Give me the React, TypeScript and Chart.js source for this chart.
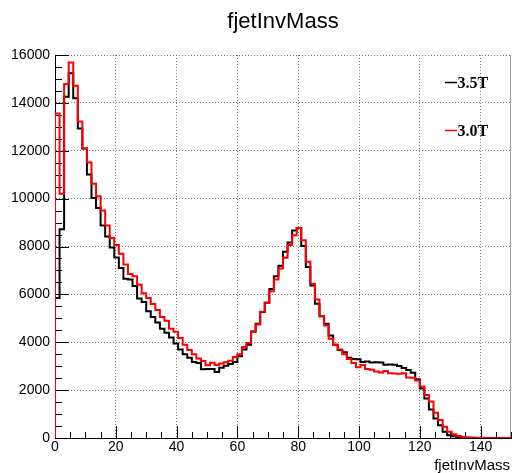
import React, { useEffect, useRef } from "react";
import { Chart, registerables } from "chart.js";

Chart.register(...registerables);

// ---- axis / binning ----
const X_MIN = 0;
const X_MAX = 150;
const BIN_WIDTH = 1.5;
const Y_MAX = 16000;
const X_TICKS = [0, 20, 40, 60, 80, 100, 120, 140];
const X_MAJOR = 20;
const X_MINOR = 5;
const Y_MAJOR = 2000;
const Y_MINOR = 500;

const TITLE = "fjetInvMass";
const X_TITLE = "fjetInvMass";
const SERIES_LABELS = ["3.5T", "3.0T"];
const SERIES_COLORS = ["#000000", "#ff0000"];

// ---- histogram contents (100 bins of width 1.5) ----
const H_35T = [
  5850, 8720, 14260, 15240, 14190, 12930, 12090, 11010, 10030, 9610,
  8880, 8420, 7960, 7540, 7100, 6650, 6620, 6350, 5830, 5680,
  5300, 5050, 4820, 4560, 4400, 4200, 3950, 3700, 3500, 3350,
  3170, 3130, 2870, 2880, 2880, 2760, 2930, 3020, 3090, 3170,
  3420, 3700, 3900, 4450, 4770, 5260, 5650, 6220, 6760, 7200,
  7780, 8170, 8670, 8770, 8020, 7140, 6370, 5610, 5090, 4770,
  4280, 3900, 3680, 3580, 3350, 3300, 3290, 3180, 3200, 3150,
  3160, 3150, 3060, 3070, 3060, 3010, 2920, 2840, 2730, 2450,
  2070, 1650, 1190, 810, 530, 260, 120, 70, 45, 25,
  15, 8, 5, 3, 2, 1, 1, 0, 0, 0,
];

const H_30T = [
  13560, 10200, 14790, 15690, 14720, 13220, 12090, 11510, 10620, 10100,
  9500, 8880, 8350, 8060, 7700, 7250, 6850, 6760, 6400, 6050,
  5850, 5600, 5350, 5050, 4900, 4560, 4440, 4180, 3900, 3680,
  3500, 3320, 3220, 3040, 3140, 3050, 3110, 3160, 3230, 3380,
  3500, 3800, 3970, 4440, 4740, 5270, 5650, 6130, 6620, 7080,
  7530, 8060, 8470, 8770, 8260, 7360, 6440, 5790, 5090, 4700,
  4150, 3900, 3700, 3500, 3300, 3130, 2960, 3050, 2880, 2850,
  2780, 2740, 2800, 2710, 2690, 2680, 2700, 2530, 2520, 2400,
  2150, 1800, 1520, 1050, 750, 470, 260, 160, 80, 45,
  25, 15, 10, 8, 5, 4, 3, 2, 1, 1,
];

const SANS = '"Liberation Sans", Arial, Helvetica, sans-serif';
const SERIF = '"Liberation Serif", "Times New Roman", serif';

function toSteps(values: number[]) {
  const pts: { x: number; y: number }[] = [{ x: X_MIN, y: 0 }];
  values.forEach((v, i) => pts.push({ x: X_MIN + i * BIN_WIDTH, y: v }));
  pts.push({ x: X_MIN + values.length * BIN_WIDTH, y: values[values.length - 1] });
  return pts;
}

const rootPlugin = {
  id: "rootDecor",
  beforeDatasetsDraw(chart: any) {
    const { ctx, chartArea: a } = chart;
    const xs = chart.scales.x;
    const ys = chart.scales.y;
    ctx.save();
    ctx.strokeStyle = "#000";
    ctx.lineWidth = 1;
    ctx.beginPath();
    for (let v = 0; v <= Y_MAX; v += Y_MINOR) {
      const p = Math.round(ys.getPixelForValue(v)) + 0.5;
      const len = v % Y_MAJOR === 0 ? 14 : 7;
      ctx.moveTo(a.left, p);
      ctx.lineTo(a.left + len, p);
    }
    for (let v = X_MIN; v <= X_MAX; v += X_MINOR) {
      const p = Math.round(xs.getPixelForValue(v)) + 0.5;
      const len = v % X_MAJOR === 0 ? 12 : 6;
      ctx.moveTo(p, a.bottom);
      ctx.lineTo(p, a.bottom - len);
    }
    ctx.stroke();
    ctx.strokeStyle = "#999";
    ctx.beginPath();
    ctx.moveTo(a.right - 0.5, a.top);
    ctx.lineTo(a.right - 0.5, a.bottom);
    ctx.stroke();
    ctx.restore();
  },
  afterDraw(chart: any) {
    const { ctx, chartArea: a } = chart;
    ctx.save();
    // title
    ctx.fillStyle = "#000";
    ctx.font = `22px ${SANS}`;
    ctx.textAlign = "center";
    ctx.textBaseline = "alphabetic";
    ctx.fillText(TITLE, (a.left + a.right) / 2, 28);
    // x axis title
    ctx.font = `15px ${SANS}`;
    ctx.textAlign = "right";
    ctx.fillText(X_TITLE, a.right - 1, 470);
    // legend
    ctx.font = `bold 16px ${SERIF}`;
    ctx.textAlign = "left";
    ctx.textBaseline = "middle";
    const rows = [82, 130];
    SERIES_LABELS.forEach((lab, i) => {
      const yy = rows[i] + 0.5;
      ctx.strokeStyle = SERIES_COLORS[i];
      ctx.lineWidth = 1.5;
      ctx.beginPath();
      ctx.moveTo(445, yy);
      ctx.lineTo(457, yy);
      ctx.stroke();
      ctx.fillStyle = "#000";
      ctx.fillText(lab, 457.5, yy + 1);
    });
    ctx.restore();
  },
};

export default function App() {
  const ref = useRef<HTMLCanvasElement | null>(null);
  useEffect(() => {
    document.body.style.margin = "0";
    document.body.style.overflow = "hidden";
    const canvas = ref.current;
    if (!canvas) return;
    const gridCommon = {
      color: "#777",
      lineWidth: 1,
      drawTicks: false,
    };
    const chart = new Chart(canvas, {
      type: "line",
      data: {
        datasets: [
          {
            label: SERIES_LABELS[1],
            data: toSteps(H_30T),
            borderColor: SERIES_COLORS[1],
            borderWidth: 2,
            stepped: "before",
            pointRadius: 0,
            fill: false,
          },
          {
            label: SERIES_LABELS[0],
            data: toSteps(H_35T),
            borderColor: SERIES_COLORS[0],
            borderWidth: 2,
            stepped: "before",
            pointRadius: 0,
            fill: false,
          },
        ],
      },
      options: {
        responsive: false,
        animation: false,
        devicePixelRatio: 1,
        layout: { padding: { top: 55, right: 1, left: 0, bottom: 0 } },
        plugins: {
          legend: { display: false },
          title: { display: false },
          tooltip: { enabled: false },
        },
        elements: { line: { tension: 0 } },
        scales: {
          x: {
            type: "linear",
            min: X_MIN,
            max: X_MAX,
            afterFit: (s: any) => {
              s.height = 35;
            },
            afterBuildTicks: (s: any) => {
              s.ticks = X_TICKS.map((v) => ({ value: v }));
            },
            grid: gridCommon,
            border: { display: true, color: "#000", width: 1, dash: [1, 2] },
            ticks: {
              padding: 1,
              color: "#000",
              font: { family: SANS, size: 14 },
              maxRotation: 0,
              autoSkip: false,
              callback: (v: any) => String(v),
            },
          },
          y: {
            type: "linear",
            min: 0,
            max: Y_MAX,
            afterFit: (s: any) => {
              s.width = 55;
            },
            grid: gridCommon,
            border: { display: true, color: "#000", width: 1, dash: [1, 2] },
            ticks: {
              stepSize: Y_MAJOR,
              padding: 5,
              color: "#000",
              font: { family: SANS, size: 14 },
              callback: (v: any) => String(v),
            },
          },
        },
      },
      plugins: [rootPlugin],
    } as any);
    return () => chart.destroy();
  }, []);
  return (
    <div style={{ width: 512, height: 473 }}>
      <canvas ref={ref} width={512} height={473} style={{ display: "block" }} />
    </div>
  );
}
